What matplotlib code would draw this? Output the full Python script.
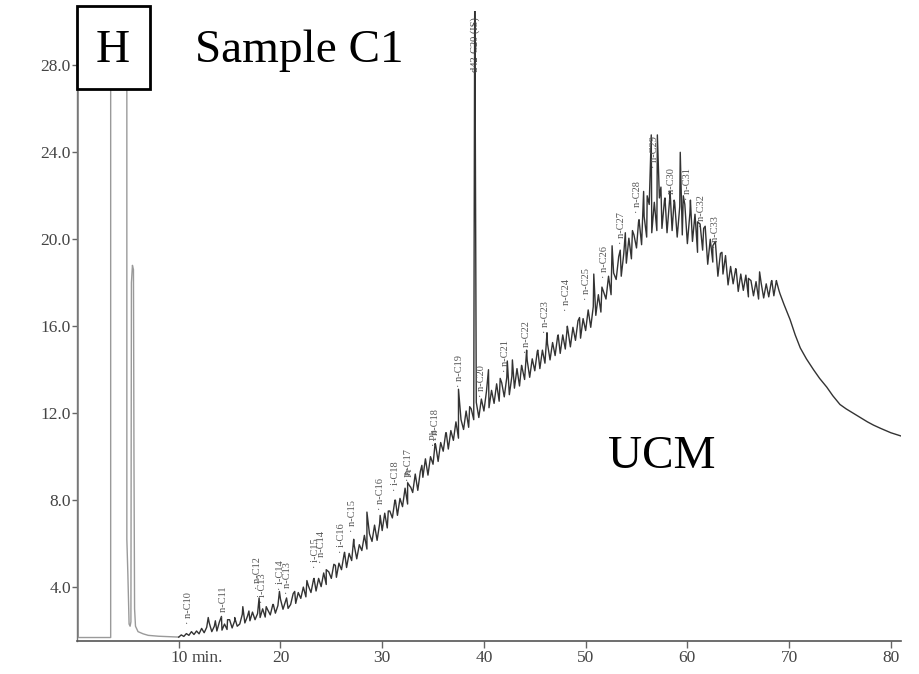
import numpy as np
import matplotlib.pyplot as plt
from matplotlib.patches import Rectangle

plt.rcParams["font.family"] = ["Liberation Serif", "DejaVu Serif"]

# early part of the run (solvent delay box + solvent peak), drawn light grey
solvent_t = [0.13, 0.13, 3.31, 3.31, 4.9, 4.9, 5.0, 5.12, 5.22, 5.3, 5.35, 5.45, 5.55,
             5.6, 5.66, 5.75, 6.0, 6.5, 7.0, 8.0, 9.0, 10.0]
solvent_y = [32.0, 1.68, 1.68, 32.0, 32.0, 6.2, 4.6, 2.3, 2.2, 2.4, 18.0, 18.8, 18.6,
             10.0, 3.0, 2.2, 1.95, 1.85, 1.78, 1.74, 1.72, 1.70]

trace_start = 10.0
trace_step = 0.25
trace_y = [
    1.70, 1.80, 1.73, 1.86,  1.78, 1.95, 1.82, 1.98,  1.85, 2.10, 1.90, 2.15,  # 10-12
    2.35, 1.95, 2.20, 1.98,  2.40, 2.02, 2.30, 2.05,  2.50, 2.12, 2.45, 2.20,  # 13-15
    2.30, 2.75, 2.35, 2.65,  2.45, 2.85, 2.50, 2.78,  2.60, 3.00, 2.62, 2.95,  # 16-18
    2.72, 3.20, 2.80, 3.15,  3.45, 2.98, 3.35, 3.02,  3.20, 3.70, 3.25, 3.75,  # 19-21
    3.48, 4.00, 3.55, 4.05,  3.75, 4.35, 3.82, 4.40,  4.02, 4.65, 4.12, 4.70,  # 22-24
    4.40, 5.05, 4.45, 5.10,  4.80, 5.50, 4.90, 5.55,  5.22, 5.92, 5.30, 5.95,  # 25-27
    5.68, 6.38, 5.75, 6.45,  6.10, 6.85, 6.15, 6.92,  6.60, 7.40, 6.72, 7.50,  # 28-30
    7.18, 8.00, 7.30, 8.08,  7.70, 8.55, 7.82, 8.62,  8.35, 9.20, 8.45, 9.32,  # 31-33
    9.05, 9.90, 9.15, 10.00,  9.65, 10.55, 9.78, 10.65,  10.25, 11.10, 10.35, 11.20,  # 34-36
    10.75, 11.60, 10.85, 11.70,  11.25, 12.10, 11.35, 12.20,  11.70, 12.50, 11.80, 12.65,  # 37-39
    12.10, 13.00, 12.25, 13.05,  12.45, 13.35, 12.55, 13.40,  12.75, 13.65, 12.85, 13.70,  # 40-42
    13.15, 14.05, 13.25, 14.10,  13.55, 14.45, 13.65, 14.50,  13.95, 14.85, 14.05, 14.90,  # 43-45
    14.30, 15.20, 14.45, 15.25,  14.65, 15.55, 14.75, 15.60,  14.95, 15.85, 15.05, 15.95,  # 46-48
    15.35, 16.25, 15.45, 16.35,  15.80, 16.75, 15.95, 16.90,  16.50, 17.45, 16.65, 17.60,  # 49-51
    17.25, 18.30, 17.45, 18.45,  18.15, 19.20, 18.30, 19.35,  18.90, 20.05, 19.10, 20.20,  # 52-54
    19.60, 20.90, 19.75, 21.05,  20.10, 21.60, 20.30, 21.70,  20.40, 21.90, 20.50, 21.80,  # 55-57
    20.30, 21.80, 20.40, 21.70,  20.10, 21.50, 20.20, 21.60,  19.80, 21.20, 19.90, 21.15,  # 58-60
    19.40, 20.70, 19.50, 20.60,  18.85, 20.00, 18.95, 19.90,  18.30, 19.35, 18.40, 19.25,  # 61-63
    17.90, 18.75, 17.95, 18.65,  17.60, 18.40, 17.65, 18.35,  17.35, 18.10, 17.40, 18.05,  # 64-66
    17.25, 18.00, 17.30, 17.95,  17.35, 18.05, 17.40, 18.10,  17.65,  # 67-69
]

# sharp peaks on top of the hump
peak_t = [12.9, 13.6, 14.2, 14.8, 15.5, 16.3, 16.9, 17.9, 18.6, 19.3, 19.9, 20.6, 21.4,
          22.6, 23.3, 24.5, 25.4, 26.3, 27.2, 28.5, 29.8, 30.6, 31.3, 32.5, 32.8, 33.9,
          35.2, 36.3, 37.5, 38.6, 39.1, 40.45, 41.6, 42.3, 42.8, 43.7, 44.2, 45.3, 46.2,
          47.3, 48.2, 49.4, 50.8, 51.6, 52.6, 53.4, 53.9, 54.6, 55.2, 55.7, 56.05, 56.45,
          57.05, 57.4, 57.8, 58.3, 58.7, 59.3, 59.6, 60.3, 61.0, 61.6, 62.5, 63.4, 64.8,
          66.0, 67.1, 68.3, 68.8]
peak_y = [2.6, 2.45, 2.65, 2.5, 2.6, 3.1, 2.9, 3.5, 3.1, 3.2, 3.8, 3.5, 3.8,
          4.3, 4.4, 4.8, 5.0, 5.6, 6.2, 7.45, 7.3, 7.5, 8.0, 8.8, 8.6, 9.6,
          10.6, 11.1, 13.1, 12.3, 32.0, 14.0, 13.6, 14.4, 14.45, 14.2, 14.9, 14.9, 15.7,
          15.6, 16.0, 16.4, 18.4, 17.8, 19.7, 19.5, 20.3, 20.4, 20.8, 22.2, 22.0, 24.8,
          24.8, 22.4, 21.9, 22.2, 21.8, 24.0, 22.0, 21.8, 20.8, 20.5, 19.7, 19.4, 18.6,
          18.2, 18.5, 18.1, 18.0]

# smooth tail after the hump
tail_t = [69.1, 69.5, 70.1, 70.6, 71.1, 71.7, 72.4, 73.0, 73.7, 74.3, 75.0, 75.6, 76.3,
          77.0, 77.7, 78.3, 79.0, 80.0, 81.0]
tail_y = [17.5, 17.0, 16.3, 15.6, 15.0, 14.5, 14.0, 13.6, 13.2, 12.8, 12.4, 12.2, 12.0,
          11.8, 11.6, 11.45, 11.3, 11.1, 10.95]

# peak annotations (text, time, bottom of the label)
label_text = ["n-C10", "n-C11", "n-C12", "i-C13", "i-C14", "n-C13", "i-C15", "n-C14",
              "i-C16", "n-C15", "n-C16", "i-C18", "n-C17", "Pr", "n-C18", "Ph", "n-C19",
              "n-C20", "n-C21", "n-C22", "n-C23", "n-C24", "n-C25", "n-C26", "n-C27",
              "n-C28", "n-C29", "n-C30", "n-C31", "n-C32", "n-C33"]
label_t = [11.0, 14.45, 17.7, 18.2, 20.05, 20.7, 23.4, 24.0,
           26.0, 27.1, 29.8, 31.3, 32.6, 32.7, 35.2, 35.1, 37.6,
           39.8, 42.1, 44.15, 46.1, 48.1, 50.05, 51.9, 53.5,
           55.1, 56.8, 58.4, 60.0, 61.35, 62.8]
label_y = [2.3, 2.6, 3.9, 3.25, 3.85, 3.7, 4.9, 5.1,
           5.55, 6.55, 7.55, 8.4, 8.9, 8.8, 10.7, 10.5, 13.2,
           12.75, 13.9, 14.75, 15.7, 16.7, 17.2, 18.2, 19.8,
           21.2, 23.3, 21.8, 21.8, 20.55, 19.6]

x_ticks = [10, 20, 30, 40, 50, 60, 70, 80]
y_ticks = [4.0, 8.0, 12.0, 16.0, 20.0, 24.0, 28.0]

fig = plt.figure(figsize=(9.19, 6.74), dpi=100)
ax = fig.add_axes([77 / 919, 33 / 674, 824 / 919, 630 / 674])

trace_t = trace_start + trace_step * np.arange(len(trace_y))
t_all = np.concatenate([trace_t, peak_t, tail_t])
y_all = np.concatenate([trace_y, peak_y, tail_y])
order = np.argsort(t_all, kind="stable")

ax.plot(solvent_t, solvent_y, color="#9a9a9a", lw=1.0)
ax.plot(t_all[order], y_all[order], color="#333333", lw=1.0)

for txt, t, y in zip(label_text, label_t, label_y):
    ax.text(t, y, "· " + txt, rotation=90, ha="center", va="bottom",
            fontsize=7.5, color="#555555")
ax.text(39.1, 27.7, "d42-C20 (IS)", rotation=90, ha="center", va="bottom",
        fontsize=7.5, color="#444444")

ax.set_xlim(0, 81)
ax.set_ylim(1.52, 30.5)
ax.set_xticks(x_ticks)
ax.set_yticks(y_ticks)
ax.set_yticklabels([f"{v:.1f}" for v in y_ticks])
ax.tick_params(axis="x", direction="out", length=5, width=1, color="#666666",
               labelsize=12.5, labelcolor="#444444", pad=1.5)
ax.tick_params(axis="y", direction="out", length=3.5, width=1, color="#666666",
               labelsize=12.5, labelcolor="#444444", pad=1)
ax.annotate("min.", xy=(11.3, 0), xycoords=ax.get_xaxis_transform(),
            xytext=(0, -6.5), textcoords="offset points", ha="left", va="top",
            fontsize=12.5, color="#444444")

for s in ["top", "right"]:
    ax.spines[s].set_visible(False)
ax.spines["bottom"].set_color("#555555")
ax.spines["bottom"].set_linewidth(1.2)
ax.spines["left"].set_color("#777777")
ax.spines["left"].set_linewidth(1.0)

ax.text(52.2, 9.5, "UCM", fontsize=34, color="black")

# boxed panel letter and sample name
fig.patches.append(Rectangle((77 / 919, 1 - 89 / 674), 73 / 919, 83 / 674,
                             transform=fig.transFigure, facecolor="white",
                             edgecolor="black", lw=2, zorder=5))
fig.text(113 / 919, 1 - 62 / 674, "H", fontsize=34, ha="center", va="baseline", zorder=6)
fig.text(195 / 919, 1 - 62 / 674, "Sample C1", fontsize=34, ha="left", va="baseline")

fig.savefig("out.png", dpi=100)
